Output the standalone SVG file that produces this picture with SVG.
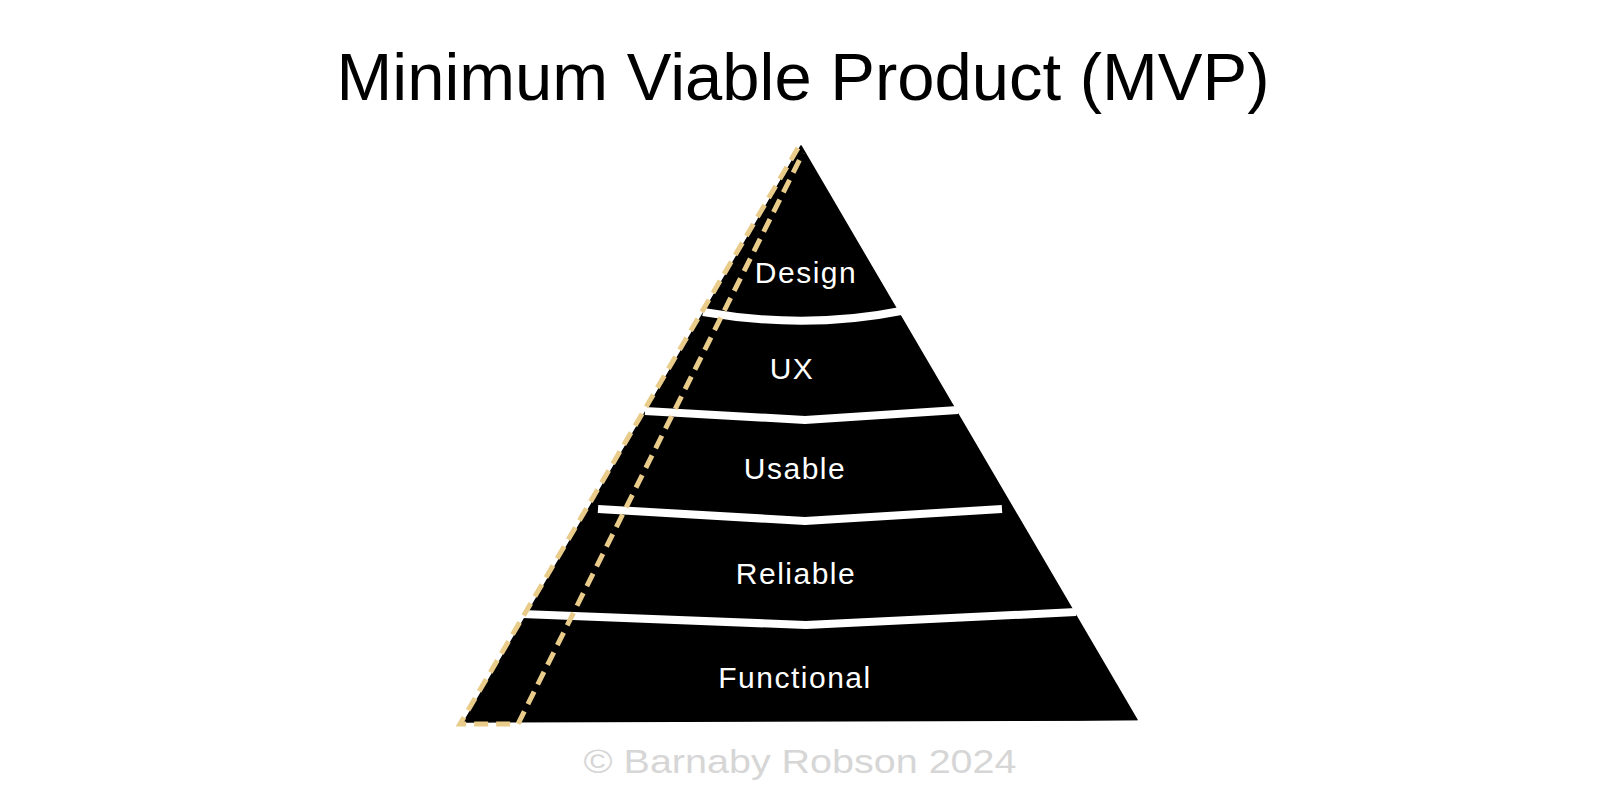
<svg xmlns="http://www.w3.org/2000/svg" width="1600" height="800" viewBox="0 0 1600 800">
  <style>
    .title { font-family: "Liberation Sans", Arial, sans-serif; font-size: 66px; fill: #000; }
    .label { font-family: "Liberation Sans", Arial, sans-serif; font-size: 30px; fill: #fff; text-anchor: middle; letter-spacing: 1.5px; }
    .band { fill: none; stroke: #fff; stroke-width: 8; stroke-linejoin: miter; }
    .dash { fill: none; stroke: #e9cc8a; stroke-width: 5; stroke-dasharray: 14 8; }
    .credit { font-family: "Liberation Sans", Arial, sans-serif; font-size: 34px; fill: #d6d6d6; text-anchor: middle; }
  </style>
  <rect width="1600" height="800" fill="#fff"/>
  <text class="title" x="803" y="100" text-anchor="middle" textLength="933" lengthAdjust="spacingAndGlyphs">Minimum Viable Product (MVP)</text>

  <g id="pyramid">
    <polygon points="801,146 1137,720 464,722" fill="#000" stroke="#000" stroke-width="1.5" stroke-linejoin="round"/>
    <line x1="900" y1="723" x2="1138" y2="721" stroke="#fff" stroke-width="1"/>
  </g>

  <g id="bands">
    <path class="band" d="M703,312 Q806,330 901,311"/>
    <path class="band" d="M645,411 L805,420 L958,410"/>
    <path class="band" d="M598,509 L805,521 L1002,509"/>
    <path class="band" d="M522,614 L806,625 L1076,612"/>
  </g>

  <g id="layer-design"><text class="label" x="806" y="283">Design</text></g>
  <g id="layer-ux"><text class="label" x="792" y="379">UX</text></g>
  <g id="layer-usable"><text class="label" x="795" y="479">Usable</text></g>
  <g id="layer-reliable"><text class="label" x="796" y="584">Reliable</text></g>
  <g id="layer-functional"><text class="label" x="795" y="688">Functional</text></g>

  <g id="mvp-slice">
    <path class="dash" d="M798,148 L460,724 L518,724 L803,153"/>
  </g>

  <text class="credit" x="800" y="773" textLength="433" lengthAdjust="spacingAndGlyphs">© Barnaby Robson 2024</text>
</svg>
